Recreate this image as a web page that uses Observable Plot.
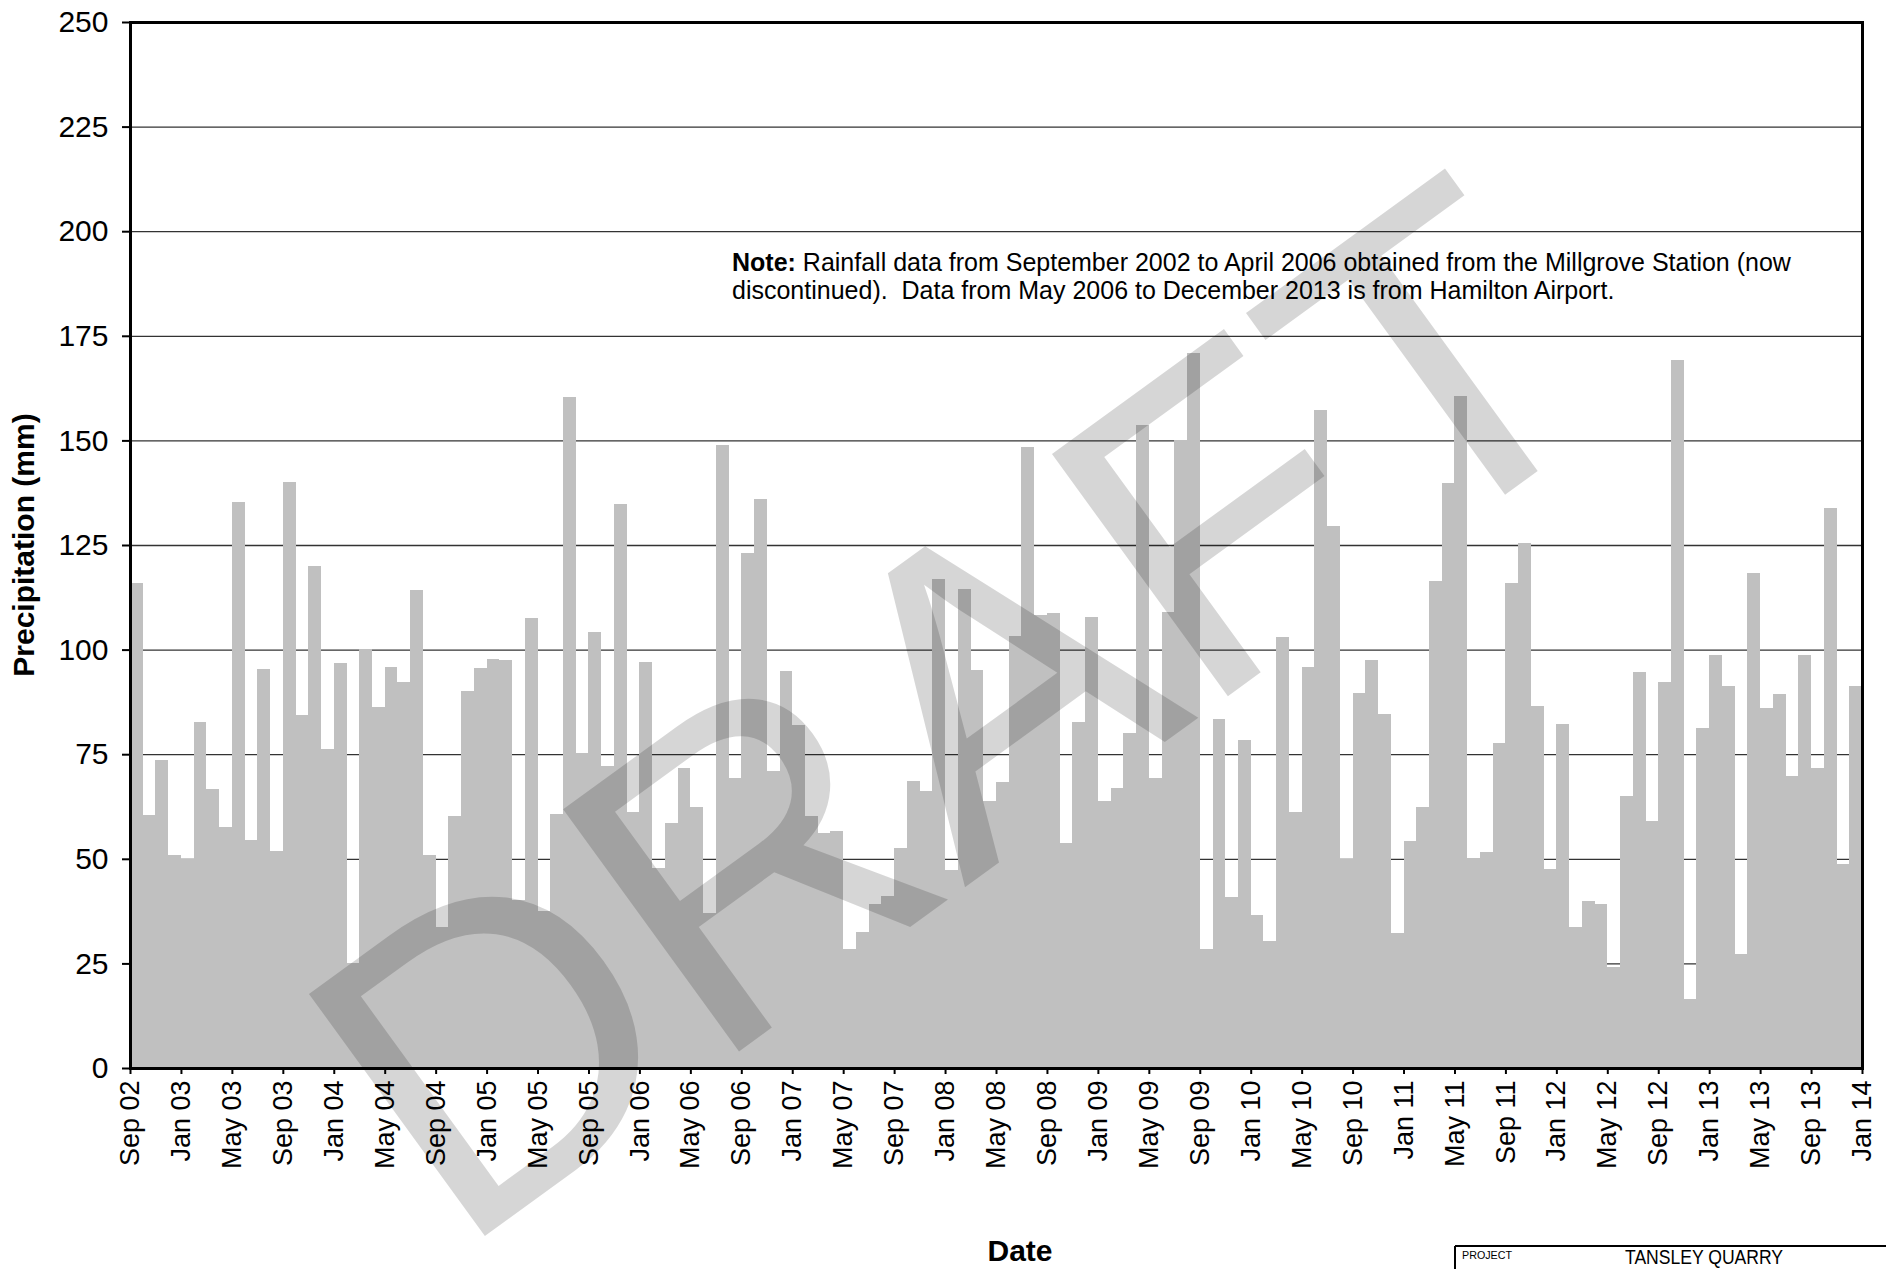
<!DOCTYPE html>
<html>
<head>
<meta charset="utf-8">
<script src="https://cdn.jsdelivr.net/npm/d3@7"></script>
<script src="https://cdn.jsdelivr.net/npm/@observablehq/plot@0.6"></script>
<style>
  html, body { margin: 0; padding: 0; background: #fff; }
  svg { display: block; }
</style>
</head>
<body>
<div id="chart"></div>
<script>
// Monthly precipitation (mm), Sep 2002 .. Dec 2013 (136 months)
const startMonth = "2002-09";
const precipitation = [
  116, 60.4, 73.5, 50.9, 50.0, 82.7, 66.7, 57.7, 135.2, 54.5, 95.3, 51.9,      // Sep02-Aug03
  140.1, 84.4, 120.1, 76.3, 96.7, 25.0, 100.2, 86.3, 95.9, 92.2, 114.2, 50.9,  // Sep03-Aug04
  33.7, 60.2, 90.0, 95.7, 97.8, 97.4, 40.1, 107.5, 37.6, 60.7, 160.3, 75.2,    // Sep04-Aug05
  104.2, 72.1, 134.8, 61.1, 97.0, 47.9, 58.5, 71.7, 62.4, 37.1, 149.0, 69.3,   // Sep05-Aug06
  123.2, 136.0, 71.0, 94.9, 82.0, 60.2, 56.2, 56.7, 28.5, 32.5, 39.2, 41.0,    // Sep06-Aug07
  52.5, 68.5, 66.3, 116.9, 47.4, 114.5, 95.2, 63.9, 68.3, 103.2, 148.4, 108.2, // Sep07-Aug08
  108.8, 53.7, 82.7, 107.8, 63.8, 67.0, 80.0, 153.8, 69.3, 109.0, 150.1, 171.0,// Sep08-Aug09
  28.5, 83.3, 40.9, 78.5, 36.5, 30.3, 103.1, 61.3, 95.9, 157.3, 129.6, 50.0,   // Sep09-Aug10
  89.6, 97.5, 84.7, 32.3, 54.3, 62.4, 116.4, 139.7, 160.6, 50.1, 51.6, 77.7,   // Sep10-Aug11
  115.9, 125.5, 86.6, 47.6, 82.2, 33.7, 40.0, 39.2, 24.2, 65.0, 94.6, 59.1,    // Sep11-Aug12
  92.2, 169.3, 16.6, 81.2, 98.6, 91.3, 27.2, 118.3, 86.0, 89.4, 69.9, 98.6,    // Sep12-Aug13
  71.8, 133.8, 48.7, 91.3                                                       // Sep13-Dec13
];
const tickLabels = [
  "Sep 02","Jan 03","May 03","Sep 03","Jan 04","May 04","Sep 04","Jan 05","May 05",
  "Sep 05","Jan 06","May 06","Sep 06","Jan 07","May 07","Sep 07","Jan 08","May 08",
  "Sep 08","Jan 09","May 09","Sep 09","Jan 10","May 10","Sep 10","Jan 11","May 11",
  "Sep 11","Jan 12","May 12","Sep 12","Jan 13","May 13","Sep 13","Jan 14"
];
const yTicks = [0, 25, 50, 75, 100, 125, 150, 175, 200, 225, 250];
const gridValues = [25, 50, 75, 100, 125, 150, 175, 200, 225];

const nMonths = precipitation.length;
const data = precipitation.map((v, i) => ({i, i2: i + 1, value: v}));
const tickIdx = tickLabels.map((_, k) => k * 4);

const FONT = "'Liberation Sans', Arial, Helvetica, sans-serif";

const chart = Plot.plot({
  width: 1886,
  height: 1269,
  marginLeft: 130,
  marginRight: 24,
  marginTop: 22,
  marginBottom: 201,
  style: {fontFamily: FONT, background: "#fff", color: "#000"},
  x: {domain: [0, nMonths]},
  y: {domain: [0, 250]},
  marks: [
    Plot.ruleY(gridValues, {stroke: "#333", strokeWidth: 1.3}),
    Plot.rect(data, {x1: "i", x2: "i2", y1: 0, y2: "value", fill: "#c0c0c0", inset: 0, shapeRendering: "crispEdges"}),
    Plot.axisY({ticks: yTicks, tickSize: 8, tickPadding: 14, fontSize: 30, strokeWidth: 2, label: null}),
    Plot.axisX({ticks: tickIdx, tickFormat: d => tickLabels[d / 4], tickRotate: -90, tickSize: 6, tickPadding: 6, fontSize: 27, strokeWidth: 2, label: null}),
    Plot.frame({stroke: "#000", strokeWidth: 3})
  ]
});

document.getElementById("chart").appendChild(chart);
const svg = d3.select(chart);

// Y axis title
svg.append("text")
  .attr("transform", "translate(34,545) rotate(-90)")
  .attr("text-anchor", "middle")
  .attr("font-family", FONT).attr("font-weight", "bold").attr("font-size", 30)
  .attr("fill", "#000")
  .text("Precipitation (mm)");

// X axis title
svg.append("text")
  .attr("x", 1020).attr("y", 1261)
  .attr("text-anchor", "middle")
  .attr("font-family", FONT).attr("font-weight", "bold").attr("font-size", 30)
  .attr("fill", "#000")
  .text("Date");

// Note
const note = svg.append("text")
  .attr("text-anchor", "start")
  .attr("font-family", FONT).attr("font-size", 25).attr("fill", "#000");
const l1 = note.append("tspan").attr("x", 732).attr("y", 271);
l1.append("tspan").attr("font-weight", "bold").text("Note:");
l1.append("tspan").text(" Rainfall data from September 2002 to April 2006 obtained from the Millgrove Station (now");
note.append("tspan").attr("x", 732).attr("y", 299)
  .text("discontinued).\u00a0 Data from May 2006 to December 2013 is from Hamilton Airport.");

// Title block (bottom right)
svg.append("line").attr("x1", 1455).attr("x2", 1886).attr("y1", 1246).attr("y2", 1246)
  .attr("stroke", "#000").attr("stroke-width", 2);
svg.append("line").attr("x1", 1455).attr("x2", 1455).attr("y1", 1246).attr("y2", 1269)
  .attr("stroke", "#000").attr("stroke-width", 2);
svg.append("text").attr("x", 1462).attr("y", 1259)
  .attr("text-anchor", "start")
  .attr("font-family", FONT).attr("font-size", 11).attr("fill", "#000")
  .attr("textLength", 50).attr("lengthAdjust", "spacingAndGlyphs")
  .text("PROJECT");
svg.append("text").attr("x", 1625).attr("y", 1264)
  .attr("text-anchor", "start")
  .attr("font-family", FONT).attr("font-size", 20).attr("fill", "#000")
  .attr("textLength", 158).attr("lengthAdjust", "spacingAndGlyphs")
  .text("TANSLEY QUARRY");

// DRAFT watermark
svg.append("text")
  .attr("transform", "translate(456,1257) rotate(-36)")
  .attr("text-anchor", "start")
  .attr("font-family", FONT).attr("font-size", 435)
  .attr("fill", "#000").attr("fill-opacity", 0.16)
  .text("DRAFT");
</script>
</body>
</html>
